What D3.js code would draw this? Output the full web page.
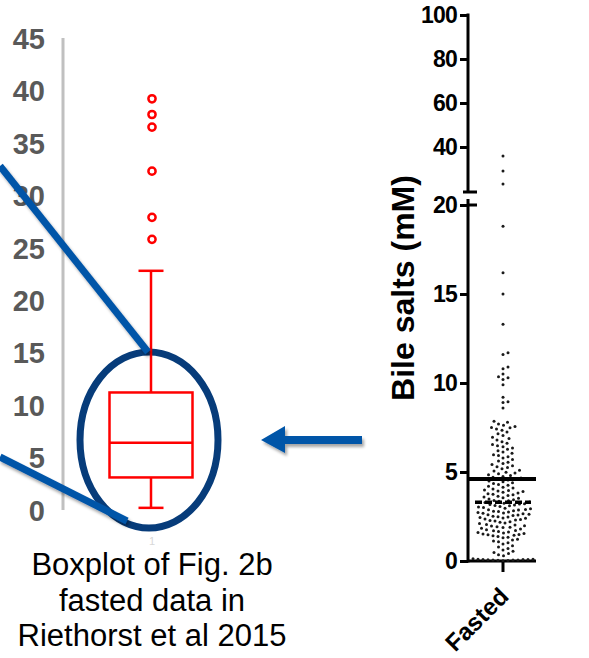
<!DOCTYPE html>
<html>
<head>
<meta charset="utf-8">
<script src="https://cdn.jsdelivr.net/npm/d3@7"></script>
<style>
body { margin: 0; background: #fff; }
text { font-family: Arial, "Liberation Sans", sans-serif; }
</style>
</head>
<body>
<svg id="mainSVG" width="589" height="658"></svg>
<script>
// ---- data ----
var boxCategory = ['1'];
var boxStats = {low: 0.3, q1: 3.2, median: 6.5, q3: 11.3, high: 22.9};
var boxOutliers = [25.9, 28.0, 32.4, 36.6, 37.8, 39.3];
var leftTicks = [0, 5, 10, 15, 20, 25, 30, 35, 40, 45];

var swarmCategory = ['Fasted'];
var lowerTicks = [0, 5, 10, 15, 20];
var upperTicks = [40, 60, 80, 100];
var fastedMean = 4.6;
var fastedMedian = 3.3;
var fastedValues = [
    0.02,0.03,0.04,0.05,0.05,0.06,0.07,0.08,0.08,0.09,0.1,0.1,0.12,0.14,
    0.3,0.35,0.42,0.48,0.55,0.62,0.7,0.78,0.85,0.95,
    1.02,1.08,1.12,1.18,1.22,1.3,1.34,1.38,1.42,1.45,1.48,1.49,
    1.52,1.55,1.58,1.6,1.63,1.66,1.7,1.72,1.75,1.8,1.84,1.88,1.9,1.93,1.96,1.98,
    2.02,2.05,2.1,2.14,2.18,2.2,2.25,2.28,2.3,2.33,2.36,2.4,2.42,2.45,2.47,2.49,
    2.52,2.55,2.58,2.6,2.62,2.65,2.68,2.7,2.72,2.75,2.78,2.8,2.83,2.86,2.88,2.9,2.94,2.97,
    3.0,3.03,3.06,3.1,3.12,3.15,3.18,3.2,3.22,3.25,3.28,3.3,3.32,3.35,3.38,3.4,3.44,3.48,
    3.52,3.56,3.6,3.64,3.68,3.72,3.75,3.78,3.82,3.86,3.9,3.93,3.96,3.99,
    4.04,4.1,4.15,4.2,4.25,4.3,4.35,4.4,4.45,4.5,4.55,4.58,
    4.62,4.66,4.7,4.75,4.8,4.85,4.9,4.95,4.98,
    5.05,5.1,5.18,5.25,5.3,5.35,5.42,5.48,
    5.55,5.62,5.7,5.78,5.85,5.92,5.97,
    6.05,6.12,6.2,6.28,6.35,6.42,6.48,
    6.55,6.62,6.7,6.8,6.88,6.95,
    7.05,7.15,7.25,7.35,7.42,7.48,
    7.5,7.55,7.62,7.7,7.8,7.85,
    8.6,8.9,8.95,9.2,9.9,
    10.2,10.3,10.35,10.5,10.8,10.9,11.6,11.7,
    13.3,15.0,16.2,18.8,
    23.2,29.1,35.9
];
var captionLines = ['Boxplot of Fig. 2b', 'fasted data in', 'Riethorst et al 2015'];

// ---- styles ----
var red = '#ff0000';
var navy = '#073c7a';
var blue = '#0055a8';
var dotRadius = 1.5;
var dotGap = 5;

var $svg = d3.select('#mainSVG');

var $defs = $svg.append('defs');
$defs.append('filter').attr('id','shadow')
    .attr('x','-20%').attr('y','-20%').attr('width','140%').attr('height','140%')
    .append('feDropShadow')
    .attr('dx',2).attr('dy',3).attr('stdDeviation',1.8)
    .attr('flood-color','#000').attr('flood-opacity',0.35);
$defs.append('clipPath').attr('id','rightClip')
    .append('rect').attr('x',360).attr('y',0).attr('width',176).attr('height',658);

// ============ left: boxplot ============
var yLeft = d3.scaleLinear().domain([0,45]).range([511,39]);
var xLeft = d3.scaleBand().domain(boxCategory).range([80,222]);
var cx = xLeft(boxCategory[0]) + xLeft.bandwidth()/2;

var $left = $svg.append('g').attr('id','boxplot');

$left.append('line')
    .attr('x1',63).attr('x2',63)
    .attr('y1',yLeft(45)-1).attr('y2',yLeft(0)-1)
    .attr('stroke','#c0c0c0').attr('stroke-width',3);

$left.append('g')
    .attr('transform','translate(63,0)')
    .call(d3.axisLeft(yLeft).tickValues(leftTicks).tickSize(0).tickPadding(18))
    .call(g=>g.select('.domain').remove())
    .selectAll('text')
    .attr('font-size',29).attr('font-weight','bold')
    .attr('font-family','Arial, "Liberation Sans", sans-serif')
    .attr('fill','#595959');

// faint category label
$left.append('text')
    .attr('x',cx+1).attr('y',545)
    .attr('text-anchor','middle')
    .attr('font-size',11).attr('fill','#d8d8d8')
    .text(boxCategory[0]);

// highlight ellipse
$left.append('ellipse')
    .attr('cx',cx-2).attr('cy',440)
    .attr('rx',69).attr('ry',88)
    .attr('fill','none').attr('stroke',navy).attr('stroke-width',7);

var boxW = 83, capW = 25;
var $box = $left.append('g')
    .attr('stroke',red).attr('stroke-width',2.5).attr('fill','none');
$box.append('line')
    .attr('x1',cx).attr('x2',cx)
    .attr('y1',yLeft(boxStats.high)).attr('y2',yLeft(boxStats.q3));
$box.append('line')
    .attr('x1',cx).attr('x2',cx)
    .attr('y1',yLeft(boxStats.q1)).attr('y2',yLeft(boxStats.low));
$box.selectAll('.cap').data([boxStats.low, boxStats.high]).enter()
    .append('line').attr('class','cap')
    .attr('x1',cx-capW/2).attr('x2',cx+capW/2)
    .attr('y1',d=>yLeft(d)).attr('y2',d=>yLeft(d));
$box.append('rect')
    .attr('x',cx-boxW/2).attr('width',boxW)
    .attr('y',yLeft(boxStats.q3))
    .attr('height',yLeft(boxStats.q1)-yLeft(boxStats.q3));
$box.append('line')
    .attr('x1',cx-boxW/2).attr('x2',cx+boxW/2)
    .attr('y1',yLeft(boxStats.median)).attr('y2',yLeft(boxStats.median));
$box.selectAll('circle').data(boxOutliers).enter()
    .append('circle')
    .attr('cx',cx+1).attr('cy',d=>yLeft(d)).attr('r',3.6);

// zoom lines from the ellipse
$left.append('g').attr('filter','url(#shadow)')
    .selectAll('line').data([[0,166,148,352],[0,457,127,521]]).enter()
    .append('line')
    .attr('x1',d=>d[0]).attr('y1',d=>d[1])
    .attr('x2',d=>d[2]).attr('y2',d=>d[3])
    .attr('stroke',blue).attr('stroke-width',7);

// caption
$left.append('g').selectAll('text').data(captionLines).enter()
    .append('text')
    .attr('x',cx+1).attr('y',(d,i)=>575+i*35.5)
    .attr('text-anchor','middle')
    .attr('font-size',31).attr('fill','#000')
    .text(d=>d);

// arrow
$svg.append('path')
    .attr('filter','url(#shadow)')
    .attr('fill',blue)
    .attr('d','M 362 436 L 285 436 L 285 426 L 261 440 L 285 453 L 285 444 L 362 444 Z');

// ============ right: scatter with broken axis ============
var axisX = 468;
var yLow = d3.scaleLinear().domain([0,20]).range([561,205]);
var yHigh = d3.scaleLinear().domain([20,100]).range([191,15]);
var yRight = v => v > 20 ? yHigh(v) : yLow(v);
var xRight = d3.scaleBand().domain(swarmCategory).range([axisX, 538]);
var cx2 = xRight(swarmCategory[0]) + xRight.bandwidth()/2;

var $right = $svg.append('g').attr('id','scatter').attr('clip-path','url(#rightClip)');

function styleTicks(g){
    g.select('.domain').remove();
    g.selectAll('line').attr('stroke','#000').attr('stroke-width',3);
    g.selectAll('text')
        .attr('font-size',23).attr('font-weight','bold')
        .attr('letter-spacing',-0.8)
        .attr('font-family','Arial, "Liberation Sans", sans-serif')
        .attr('fill','#000');
}
$right.append('g').attr('transform',`translate(${axisX},0)`)
    .call(d3.axisLeft(yLow).tickValues(lowerTicks).tickSize(8).tickPadding(3))
    .call(styleTicks);
$right.append('g').attr('transform',`translate(${axisX},0)`)
    .call(d3.axisLeft(yHigh).tickValues(upperTicks).tickSize(8).tickPadding(3))
    .call(styleTicks);

var $axisLines = $right.append('g').attr('stroke','#000').attr('stroke-width',3);
$axisLines.append('line').attr('x1',axisX).attr('x2',axisX)
    .attr('y1',yHigh(100)-1.5).attr('y2',yHigh(20)+1);
$axisLines.append('line').attr('x1',axisX-5).attr('x2',axisX+9)
    .attr('y1',yHigh(20)+1).attr('y2',yHigh(20)+1);
$axisLines.append('line').attr('x1',axisX).attr('x2',axisX)
    .attr('y1',yLow(20)-6).attr('y2',yLow(0)+1.5);
$axisLines.append('line').attr('x1',axisX).attr('x2',axisX+9)
    .attr('y1',yLow(20)).attr('y2',yLow(20));
$axisLines.append('line').attr('x1',axisX).attr('x2',540)
    .attr('y1',yLow(0)).attr('y2',yLow(0));
$axisLines.append('line').attr('x1',cx2).attr('x2',cx2)
    .attr('y1',yLow(0)).attr('y2',yLow(0)+11);

// simple beeswarm
var placed = [];
fastedValues.slice().sort((a,b)=>a-b).forEach(v=>{
    var y = yRight(v);
    var near = placed.filter(p=>Math.abs(p.y-y) < dotGap);
    for (var k=0; k<200; k++){
        var off = (k%2 ? 1 : -1) * Math.ceil(k/2) * 0.5;
        var x = cx2 + off;
        if (near.every(p=>(p.x-x)*(p.x-x)+(p.y-y)*(p.y-y) >= dotGap*dotGap)){
            placed.push({x:x, y:y, v:v});
            break;
        }
    }
});

$right.append('g').selectAll('circle').data(placed).enter()
    .append('circle')
    .attr('cx',d=>d.x).attr('cy',d=>d.y)
    .attr('r',dotRadius).attr('fill','#1a1a1a');

// mean and median
$right.append('line')
    .attr('x1',axisX).attr('x2',540)
    .attr('y1',yLow(fastedMean)).attr('y2',yLow(fastedMean))
    .attr('stroke','#000').attr('stroke-width',4);
$right.append('line')
    .attr('x1',cx2-28).attr('x2',cx2+28)
    .attr('y1',yLow(fastedMedian)).attr('y2',yLow(fastedMedian))
    .attr('stroke','#000').attr('stroke-width',3.5)
    .attr('stroke-dasharray','7,3');

// labels
$right.append('text')
    .attr('transform',`translate(${cx2+7},598) rotate(-45)`)
    .attr('text-anchor','end')
    .attr('font-size',24).attr('font-weight','bold')
    .text(swarmCategory[0]);

$svg.append('text')
    .attr('transform','translate(414,288) rotate(-90)')
    .attr('text-anchor','middle')
    .attr('font-size',32).attr('font-weight','bold')
    .text('Bile salts (mM)');
</script>
</body>
</html>
